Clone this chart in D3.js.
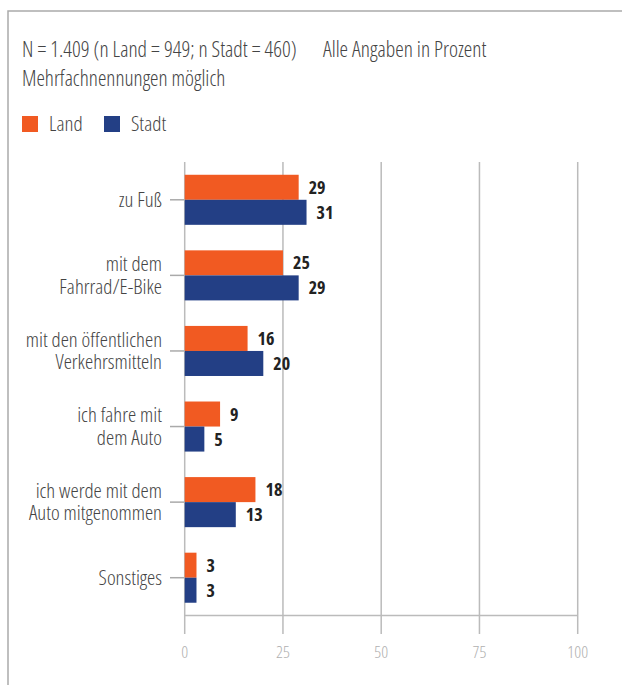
<!DOCTYPE html>
<html>
<head>
<meta charset="utf-8">
<script src="https://cdn.jsdelivr.net/npm/d3@7"></script>
<style>
  body { margin: 0; background: #fff; }
  svg text { font-family: "Open Sans", "Liberation Sans Narrow", sans-serif; font-stretch: condensed; }
</style>
</head>
<body>
<svg id="chart" width="622" height="685"></svg>
<script>
const categories = [
    ["zu Fuß"],
    ["mit dem", "Fahrrad/E-Bike"],
    ["mit den öffentlichen", "Verkehrsmitteln"],
    ["ich fahre mit", "dem Auto"],
    ["ich werde mit dem", "Auto mitgenommen"],
    ["Sonstiges"]
];
const land = [29, 25, 16, 9, 18, 3];
const stadt = [31, 29, 20, 5, 13, 3];
const xTicks = [0, 25, 50, 75, 100];
const seriesNames = ["Land", "Stadt"];
const colors = ["#f15a22", "#233f85"]; // orange, blue

const svg = d3.select("#chart");

// frame (left + top only)
svg.append("path")
    .attr("d", "M8,685 V11 H622")
    .attr("fill", "none")
    .attr("stroke", "#aaa")
    .attr("stroke-width", 1.5);

// header text
svg.append("text").attr("x", 22).attr("y", 57)
    .attr("font-size", 21.5).attr("fill", "#444").attr("font-weight", 300)
    .text("N = 1.409 (n Land = 949; n Stadt = 460)");
svg.append("text").attr("x", 323).attr("y", 57)
    .attr("font-size", 21.5).attr("fill", "#444").attr("font-weight", 300)
    .text("Alle Angaben in Prozent");
svg.append("text").attr("x", 22).attr("y", 86)
    .attr("font-size", 21.3).attr("fill", "#444").attr("font-weight", 300)
    .text("Mehrfachnennungen möglich");

// legend
const legendX = [22, 104];
seriesNames.forEach((name, i) => {
    svg.append("rect").attr("x", legendX[i]).attr("y", 116)
        .attr("width", 16).attr("height", 16).attr("fill", colors[i]);
    svg.append("text").attr("x", legendX[i] + 27).attr("y", 131)
        .attr("font-size", 21).attr("fill", "#444").attr("font-weight", 300)
        .text(name);
});

const x = d3.scaleLinear().domain([0, 100]).range([184.7, 577.7]);
const y = d3.scaleBand().domain(d3.range(categories.length)).range([162, 615.5]);
const inner = d3.scaleBand().domain([0, 1]).range([0, y.bandwidth()]).paddingOuter(0.51);

// vertical grid lines
svg.append("g").selectAll("line").data(xTicks).join("line")
    .attr("x1", d => x(d)).attr("x2", d => x(d))
    .attr("y1", 162).attr("y2", 634)
    .attr("stroke", "#bbb").attr("stroke-width", 1.5);

// bottom axis line
svg.append("line")
    .attr("x1", x(0)).attr("x2", x(100))
    .attr("y1", 615.5).attr("y2", 615.5)
    .attr("stroke", "#bbb").attr("stroke-width", 1.5);

// x tick labels
svg.append("g").selectAll("text").data(xTicks).join("text")
    .attr("x", d => x(d)).attr("y", 658)
    .attr("text-anchor", "middle")
    .attr("font-size", 17).attr("fill", "#b0b0b0").attr("font-weight", 300)
    .text(d => d);

// bars
const series = [land, stadt];
series.forEach((vals, s) => {
    const g = svg.append("g");
    g.selectAll("rect").data(vals).join("rect")
        .attr("x", x(0))
        .attr("y", (d, i) => y(i) + inner(s))
        .attr("width", d => x(d) - x(0))
        .attr("height", inner.bandwidth())
        .attr("fill", colors[s]);
    g.selectAll("text").data(vals).join("text")
        .attr("x", d => x(d) + 10)
        .attr("y", (d, i) => y(i) + inner(s) + inner.bandwidth() / 2 + 6.5)
        .attr("font-size", 18).attr("font-weight", 700).attr("fill", "#222")
        .text(d => d);
});

// category ticks and labels
const cat = svg.append("g");
categories.forEach((lines, i) => {
    const cy = y(i) + y.bandwidth() / 2;
    cat.append("line")
        .attr("x1", 170).attr("x2", x(0))
        .attr("y1", cy).attr("y2", cy)
        .attr("stroke", "#aaa").attr("stroke-width", 1.5);
    lines.forEach((ln, j) => {
        cat.append("text")
            .attr("text-anchor", "end")
            .attr("font-size", 20.8).attr("fill", "#444").attr("font-weight", 300)
            .attr("x", 162)
            .attr("y", cy + 7 + (j - (lines.length - 1) / 2) * 22.7)
            .text(ln);
    });
});
</script>
</body>
</html>
